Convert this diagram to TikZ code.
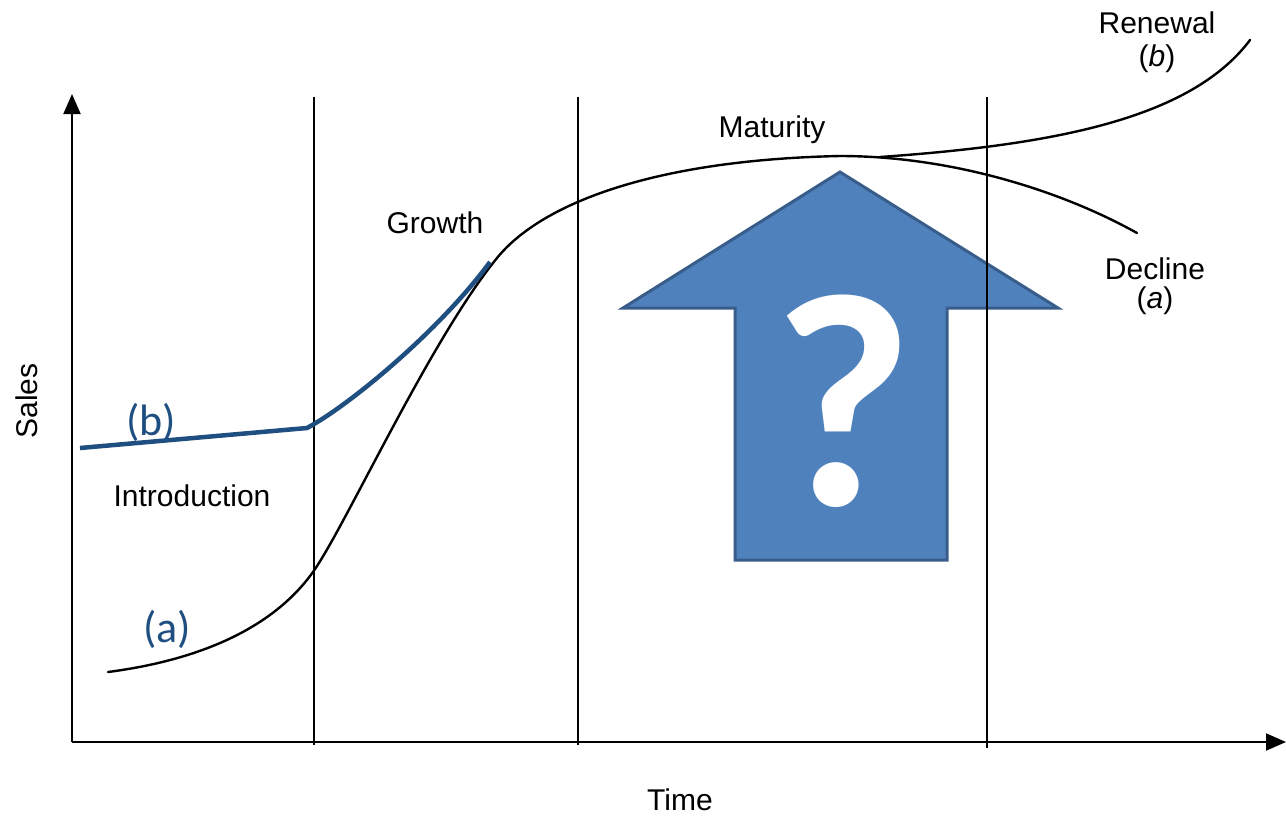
\documentclass[tikz,border=0pt]{standalone}
\usepackage{fontspec}
\usetikzlibrary{arrows.meta}
\newfontfamily\plcfont{Liberation Sans}
\newfontfamily\calfont{Carlito}
\definecolor{curveblue}{RGB}{31,78,128}
\definecolor{arrowfill}{RGB}{79,129,189}
\definecolor{arrowedge}{RGB}{56,93,138}
\tikzset{
  axis/.style={line width=2pt, -{Triangle[length=20pt,width=17pt]}},
  phase/.style={line width=1.6pt},
  plc/.style={line width=2.4pt, line cap=round, line join=round},
  planb/.style={line width=4.5pt, color=curveblue, line join=round},
  lbl/.style={inner sep=0pt, anchor=base, font=\plcfont\fontsize{30}{30}\selectfont},
  bluelbl/.style={inner sep=0pt, text=curveblue, font=\calfont\fontsize{44}{44}\selectfont},
  bigarrow/.style={fill=arrowfill, draw=arrowedge, line width=3pt, line join=miter},
}
\begin{document}
\begin{tikzpicture}[x=1pt,y=-1pt]
\useasboundingbox (0,0) rectangle (1286,815);

% axes
\coordinate (o) at (72,742);
\coordinate (ytop) at (72,94);
\coordinate (xend) at (1286,742);
\draw[axis] (o) -- (ytop);
\draw[axis] (o) -- (xend);

% the upward arrow with its question mark
\draw[bigarrow] (840,172) -- (1058,308) -- (947,308) -- (947,560)
  -- (735,560) -- (735,308) -- (623,308) -- cycle;
\node[inner sep=0pt, text=white, font=\calfont\bfseries\fontsize{305}{305}\selectfont] (qm) at (843,401) {?};

% phase boundaries
\foreach \n/\x/\yb in {p1/314/745, p2/578/745, p3/987/748}{
  \coordinate (\n top) at (\x,97);
  \coordinate (\n bot) at (\x,\yb);
  \draw[phase] (\n top) -- (\n bot);
}

% life-cycle curve (a): introduction, growth, maturity, decline
\coordinate (a0) at (108,672);
\coordinate (a1) at (313,572);
\coordinate (a2) at (497,258);
\coordinate (a3) at (840,156);
\coordinate (a4) at (1137,233);
\draw[plc] (a0) .. controls (200,660) and (273,628) .. (a1)
  .. controls (345,527) and (430,340) .. (a2)
  .. controls (540,205) and (650,160) .. (a3)
  .. controls (950,156) and (1060,190) .. (a4);
% renewal branch (b)
\coordinate (r0) at (880,157);
\coordinate (r1) at (1250,40);
\draw[plc] (r0) .. controls (1050,145) and (1190,120) .. (r1);

% curve (b): flat start, then joining the growth phase
\coordinate (b0) at (80,448);
\coordinate (b1) at (307,428);
\coordinate (b2) at (490,262);
\draw[planb] (b0) -- (b1) .. controls (350,405) and (440,330) .. (b2);

% labels
\node[lbl] (renewal) at (1157,33) {Renewal};
\node[lbl] (renewalb) at (1157,66) {(\textit{b})};
\node[lbl] (decline) at (1155,279) {Decline};
\node[lbl] (declinea) at (1155,308) {(\textit{a})};
\node[lbl] (maturity) at (772,137) {Maturity};
\node[lbl] (growth) at (435,233) {Growth};
\node[lbl] (intro) at (192,506) {Introduction};
\node[lbl] (time) at (680,810) {Time};
\node[lbl, anchor=center, rotate=90] (sales) at (27,401) {Sales};
\node[bluelbl] (lblb) at (151,422) {(b)};
\node[bluelbl] (lbla) at (167,629) {(a)};
\end{tikzpicture}
\end{document}
